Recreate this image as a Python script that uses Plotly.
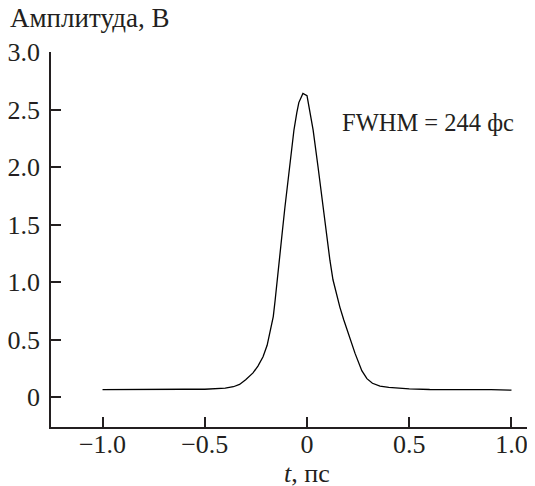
import plotly.graph_objects as go

t_ps = [-1.0, -0.9, -0.8, -0.7, -0.6, -0.5, -0.45, -0.4, -0.36, -0.33, -0.30, -0.264, -0.24,
        -0.215, -0.195, -0.181, -0.165, -0.156, -0.137, -0.12, -0.108, -0.095, -0.083, -0.07,
        -0.064, -0.05, -0.04, -0.02, 0.0, 0.01, 0.03, 0.054, 0.078, 0.095, 0.112, 0.127, 0.145,
        0.161, 0.18, 0.2, 0.235, 0.268, 0.293, 0.32, 0.357, 0.4, 0.5, 0.6, 0.7, 0.8, 0.9, 1.0]
amp_v = [0.065, 0.067, 0.066, 0.07, 0.068, 0.068, 0.072, 0.078, 0.09, 0.11, 0.15, 0.21, 0.27,
         0.35, 0.45, 0.56, 0.70, 0.84, 1.19, 1.45, 1.65, 1.85, 2.03, 2.22,
         2.32, 2.47, 2.56, 2.64, 2.62, 2.52, 2.32, 2.0, 1.65, 1.42, 1.19, 1.02, 0.89,
         0.78, 0.67, 0.56, 0.38, 0.23, 0.16, 0.12, 0.095, 0.085, 0.072, 0.066, 0.066, 0.068, 0.065, 0.06]

x_tickvals = [-1.0, -0.5, 0, 0.5, 1.0]
x_ticktext = ["\u22121.0", "\u22120.5", "0", "0.5", "1.0"]
y_tickvals = [0, 0.5, 1.0, 1.5, 2.0, 2.5, 3.0]
y_ticktext = ["0", "0.5", "1.0", "1.5", "2.0", "2.5", "3.0"]

FONT = "Liberation Serif, Times New Roman, DejaVu Serif, serif"
FS = 26
INK = "#231f20"
fig = go.Figure()
fig.add_trace(go.Scatter(x=t_ps, y=amp_v, mode="lines",
                         line=dict(color="black", width=1.3), showlegend=False))

# page body has an 8px default margin; figure sized so the plot lands in place
fig.update_layout(
    width=527, height=478,
    margin=dict(l=43, r=0, t=44, b=59),
    paper_bgcolor="white", plot_bgcolor="white",
    font=dict(family=FONT, size=FS, color=INK),
    xaxis=dict(range=[-1.252, 1.115], tickvals=x_tickvals, ticktext=x_ticktext,
               ticks="inside", ticklen=10, tickwidth=1.5, tickcolor=INK,
               tickfont=dict(family=FONT, size=FS, color=INK),
               showline=True, linecolor=INK, linewidth=1.5, automargin=False,
               showgrid=False, zeroline=False, ticklabelstandoff=-7),
    yaxis=dict(range=[-0.26, 3.0], tickvals=y_tickvals, ticktext=y_ticktext,
               ticks="inside", ticklen=10, tickwidth=1.5, tickcolor=INK,
               tickfont=dict(family=FONT, size=FS, color=INK),
               showline=True, linecolor=INK, linewidth=1.5, automargin=False,
               showgrid=False, zeroline=False, ticklabelstandoff=4),
    annotations=[
        dict(text="Амплитуда, В", xref="paper", yref="paper", x=-43/484, y=1.0 + 34/375,
             xanchor="left", yanchor="middle", showarrow=False,
             font=dict(family=FONT, size=27, color=INK)),
        dict(text="<i>t</i>, пс", xref="x", yref="paper", x=0, y=-46/375,
             xanchor="center", yanchor="middle", showarrow=False,
             font=dict(family=FONT, size=FS, color=INK)),
        dict(text="FWHM = 244 фс", xref="x", yref="y", x=0.162, y=2.39,
             xanchor="left", yanchor="middle", showarrow=False,
             font=dict(family=FONT, size=24.5, color=INK)),
    ],
)

fig.write_html("out.html")
